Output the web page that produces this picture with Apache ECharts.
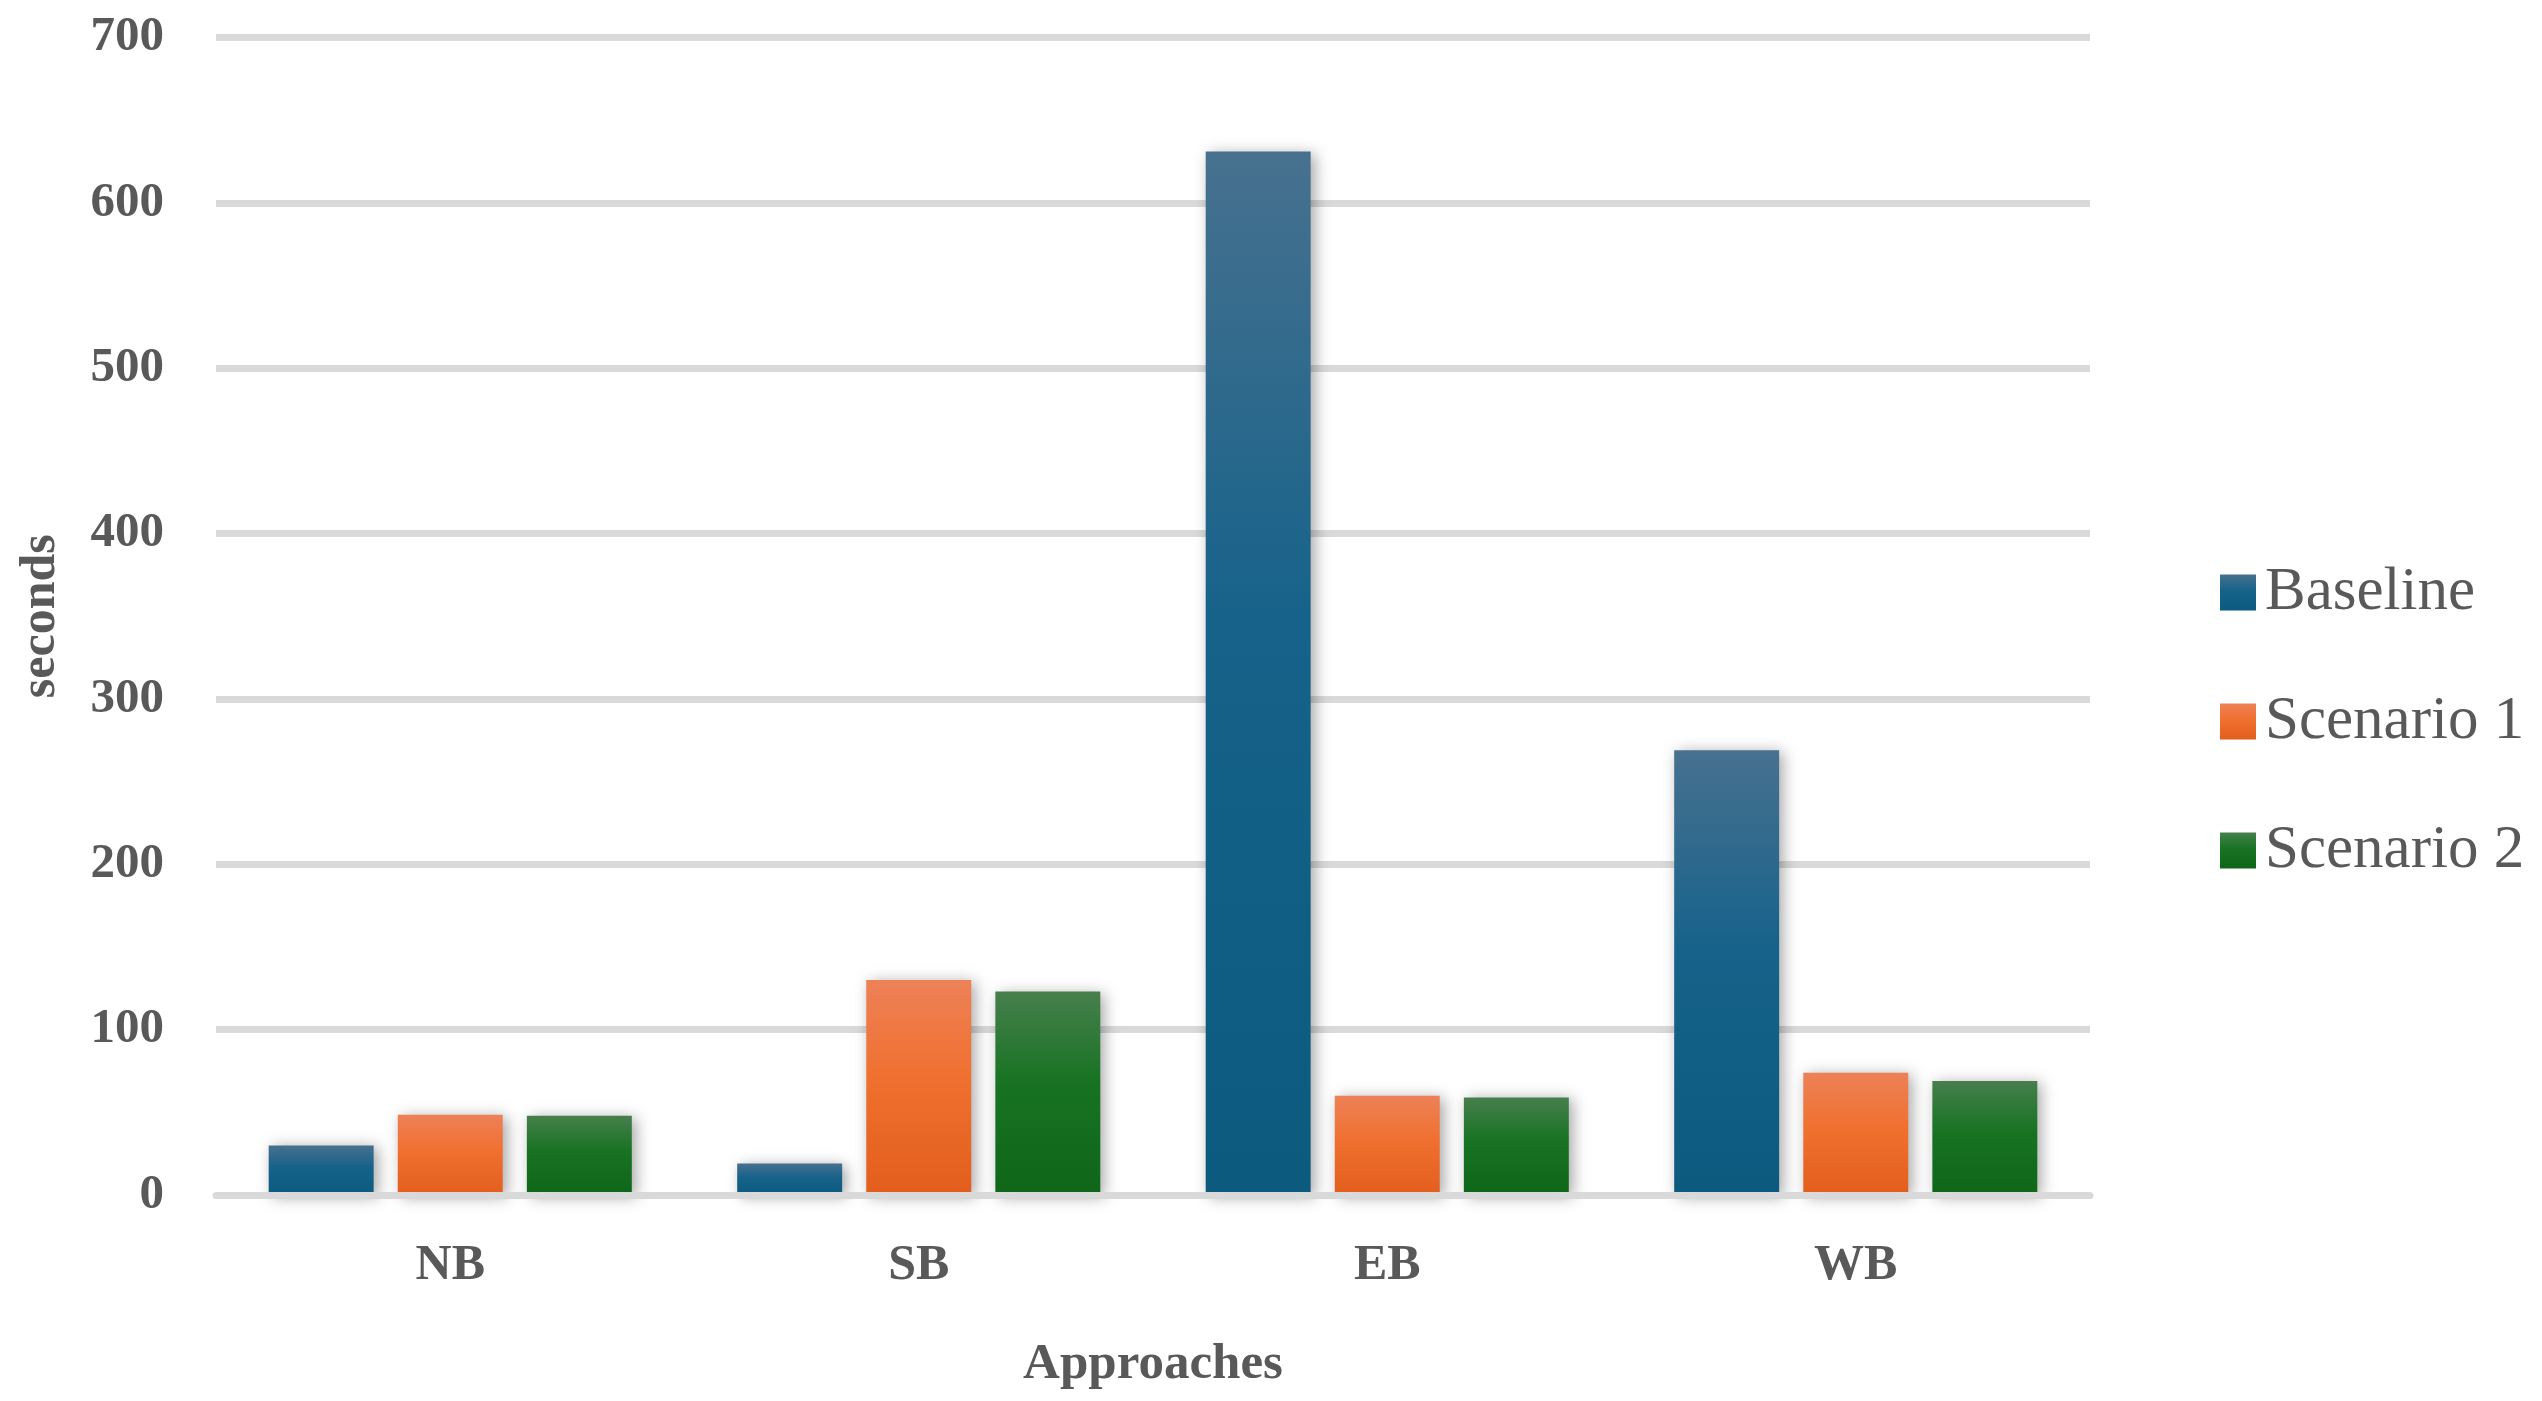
<!DOCTYPE html>
<html>
<head>
<meta charset="utf-8">
<script src="https://cdn.jsdelivr.net/npm/echarts@6/dist/echarts.min.js"></script>
<style>
html,body{margin:0;padding:0;background:#fff;}
#chart{width:2542px;height:1401px;}
</style>
</head>
<body>
<div id="chart"></div>
<script>
const categories = ['NB', 'SB', 'EB', 'WB'];
const baseline = [30, 19, 631, 269];
const scenario1 = [48.5, 130, 60, 74];
const scenario2 = [48, 123, 59, 69];
const yTicks = [0, 100, 200, 300, 400, 500, 600, 700];

const FONT = "'Palatino Linotype','Book Antiqua',Palatino,'Liberation Serif',serif";
const TXT = '#595959';

function grad(top, mid, bot) {
  return new echarts.graphic.LinearGradient(0, 0, 0, 1, [
    {offset: 0, color: top},
    {offset: 0.45, color: mid},
    {offset: 1, color: bot}
  ]);
}
const shadow = {shadowBlur: 14, shadowColor: 'rgba(0,0,0,0.35)', shadowOffsetX: 4, shadowOffsetY: 2};

const chart = echarts.init(document.getElementById('chart'));
chart.setOption({
  animation: false,
  backgroundColor: '#ffffff',
  grid: {left: 216, right: 452, top: 37.5, bottom: 206, containLabel: false},
  legend: {
    orient: 'vertical',
    left: 2215,
    top: 557,
    itemWidth: 36,
    itemHeight: 36,
    itemGap: 68,
    icon: 'rect',
    textStyle: {fontFamily: FONT, fontSize: 61, lineHeight: 60, color: TXT, padding: [0, 0, 0, 4]},
    data: ['Baseline', 'Scenario 1', 'Scenario 2']
  },
  xAxis: {
    type: 'category',
    data: categories,
    z: 5,
    axisLine: {show: true, lineStyle: {color: '#d9d9d9', width: 7}},
    axisTick: {show: false},
    axisLabel: {fontFamily: FONT, fontSize: 50, fontWeight: 'bold', color: TXT, margin: 46},
    name: 'Approaches',
    nameLocation: 'middle',
    nameGap: 144,
    nameTextStyle: {fontFamily: FONT, fontSize: 51, fontWeight: 'bold', color: TXT}
  },
  yAxis: {
    type: 'value',
    min: yTicks[0],
    max: yTicks[yTicks.length - 1],
    interval: 100,
    axisLine: {show: false},
    axisTick: {show: false},
    splitLine: {lineStyle: {color: '#d9d9d9', width: 7}},
    axisLabel: {fontFamily: FONT, fontSize: 49, fontWeight: 'bold', color: TXT, margin: 52},
    name: 'seconds',
    nameLocation: 'middle',
    nameGap: 150,
    nameTextStyle: {fontFamily: FONT, fontSize: 50, fontWeight: 'bold', color: TXT}
  },
  series: [
    {name: 'Baseline', type: 'bar', data: baseline, barWidth: '22.4%', barGap: '23%',
     itemStyle: Object.assign({color: grad('#47718f', '#16628a', '#0c5a7e')}, shadow)},
    {name: 'Scenario 1', type: 'bar', data: scenario1, barWidth: '22.4%', barGap: '23%',
     itemStyle: Object.assign({color: grad('#ed8157', '#f07030', '#e25e1c')}, shadow)},
    {name: 'Scenario 2', type: 'bar', data: scenario2, barWidth: '22.4%', barGap: '23%',
     itemStyle: Object.assign({color: grad('#477f4d', '#177322', '#0f6619')}, shadow)}
  ]
});
</script>
</body>
</html>
